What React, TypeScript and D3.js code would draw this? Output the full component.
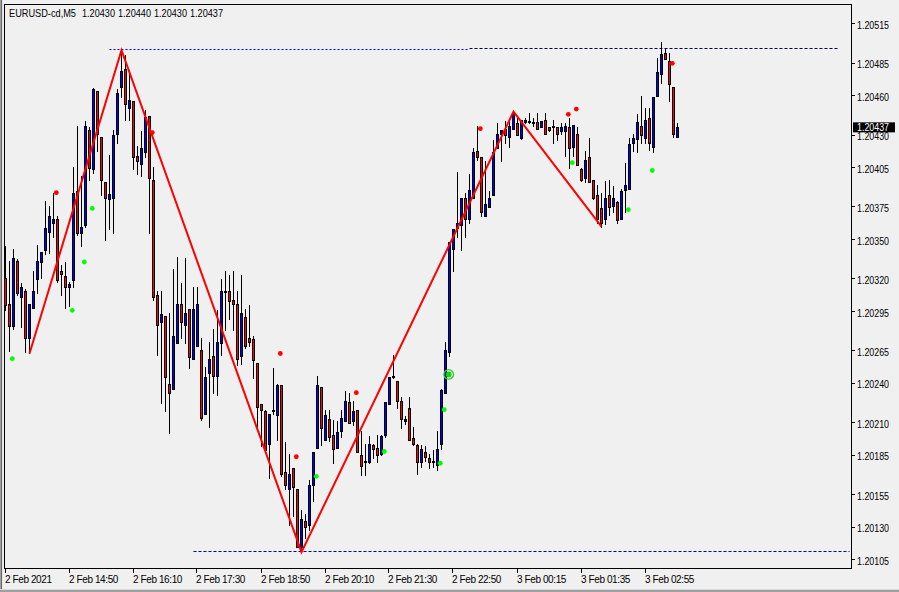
import React, { useEffect } from 'react';
import * as d3 from 'd3';

const symbolTitle = 'EURUSD-cd,M5';
const lastBarValues = ['1.20430', '1.20440', '1.20430', '1.20437'];
const lastPrice = 1.20437;

const opens = [
  1.20322, 1.20302, 1.20285, 1.20335, 1.20307, 1.20312, 1.20276, 1.20299, 1.20321, 1.20334,
  1.20343, 1.20357, 1.20364, 1.20367, 1.20327, 1.20323, 1.20315, 1.20320, 1.20388, 1.20356,
  1.20362, 1.20435, 1.20405, 1.20465, 1.20430, 1.20395, 1.20382, 1.20383, 1.20432, 1.20468,
  1.20482, 1.20452, 1.20457, 1.20415, 1.20409, 1.20418, 1.20446, 1.20397, 1.20309, 1.20288,
  1.20293, 1.20241, 1.20237, 1.20272, 1.20302, 1.20286, 1.20298, 1.20260, 1.20270, 1.20267,
  1.20218, 1.20249, 1.20262, 1.20247, 1.20272, 1.20312, 1.20312, 1.20305, 1.20302, 1.20262,
  1.20292, 1.20276, 1.20275, 1.20257, 1.20225, 1.20220, 1.20195, 1.20221, 1.20217, 1.20240,
  1.20173, 1.20160, 1.20176, 1.20160, 1.20116, 1.20136, 1.20133, 1.20163, 1.20192, 1.20238,
  1.20198, 1.20214, 1.20202, 1.20192, 1.20205, 1.20212, 1.20227, 1.20212, 1.20221, 1.20186,
  1.20182, 1.20181, 1.20194, 1.20192, 1.20187, 1.20202, 1.20225, 1.20247, 1.20243, 1.20228,
  1.20212, 1.20222, 1.20199, 1.20194, 1.20181, 1.20189, 1.20184, 1.20181, 1.20179, 1.20195,
  1.20234, 1.20265, 1.20344, 1.20360, 1.20362, 1.20383, 1.20367, 1.20383, 1.20419, 1.20414,
  1.20369, 1.20376, 1.20385, 1.20421, 1.20432, 1.20436, 1.20430, 1.20436, 1.20440, 1.20429,
  1.20441, 1.20442, 1.20440, 1.20441, 1.20437, 1.20443, 1.20437, 1.20438, 1.20437, 1.20434,
  1.20434, 1.20437, 1.20422, 1.20432, 1.20405, 1.20398, 1.20414, 1.20397, 1.20385, 1.20375,
  1.20367, 1.20385, 1.20377, 1.20380, 1.20367, 1.20389, 1.20390, 1.20425, 1.20428, 1.20438,
  1.20429, 1.20444, 1.20422, 1.20461, 1.20478, 1.20494, 1.20488, 1.20468, 1.20430,
];

const highs = [
  1.20346, 1.20335, 1.20344, 1.20336, 1.20318, 1.20313, 1.20302, 1.20327, 1.20347, 1.20342,
  1.20381, 1.20377, 1.20387, 1.20369, 1.20332, 1.20334, 1.20319, 1.20407, 1.20438, 1.20400,
  1.20442, 1.20437, 1.20467, 1.20465, 1.20430, 1.20395, 1.20416, 1.20435, 1.20466, 1.20496,
  1.20492, 1.20481, 1.20457, 1.20423, 1.20434, 1.20450, 1.20446, 1.20407, 1.20312, 1.20312,
  1.20293, 1.20295, 1.20329, 1.20338, 1.20318, 1.20337, 1.20298, 1.20315, 1.20315, 1.20276,
  1.20254, 1.20273, 1.20283, 1.20297, 1.20321, 1.20327, 1.20324, 1.20327, 1.20312, 1.20324,
  1.20298, 1.20301, 1.20277, 1.20257, 1.20225, 1.20221, 1.20218, 1.20253, 1.20241, 1.20240,
  1.20196, 1.20187, 1.20176, 1.20160, 1.20144, 1.20141, 1.20167, 1.20189, 1.20247, 1.20238,
  1.20221, 1.20221, 1.20213, 1.20212, 1.20221, 1.20235, 1.20234, 1.20228, 1.20221, 1.20205,
  1.20195, 1.20201, 1.20195, 1.20202, 1.20202, 1.20227, 1.20246, 1.20263, 1.20243, 1.20231,
  1.20216, 1.20231, 1.20208, 1.20195, 1.20194, 1.20193, 1.20187, 1.20190, 1.20205, 1.20237,
  1.20273, 1.20349, 1.20359, 1.20403, 1.20383, 1.20387, 1.20401, 1.20421, 1.20438, 1.20414,
  1.20411, 1.20388, 1.20427, 1.20440, 1.20435, 1.20442, 1.20441, 1.20449, 1.20446, 1.20443,
  1.20444, 1.20448, 1.20444, 1.20448, 1.20442, 1.20448, 1.20437, 1.20443, 1.20437, 1.20440,
  1.20440, 1.20444, 1.20439, 1.20437, 1.20406, 1.20419, 1.20429, 1.20397, 1.20393, 1.20387,
  1.20396, 1.20397, 1.20392, 1.20381, 1.20390, 1.20410, 1.20429, 1.20432, 1.20447, 1.20461,
  1.20452, 1.20452, 1.20460, 1.20490, 1.20502, 1.20497, 1.20494, 1.20468, 1.20440,
];

const lows = [
  1.20297, 1.20266, 1.20283, 1.20309, 1.20284, 1.20265, 1.20264, 1.20299, 1.20310, 1.20322,
  1.20340, 1.20341, 1.20353, 1.20319, 1.20309, 1.20299, 1.20300, 1.20315, 1.20355, 1.20346,
  1.20361, 1.20397, 1.20402, 1.20419, 1.20385, 1.20351, 1.20359, 1.20356, 1.20425, 1.20460,
  1.20443, 1.20443, 1.20405, 1.20401, 1.20400, 1.20414, 1.20356, 1.20305, 1.20263, 1.20226,
  1.20220, 1.20203, 1.20237, 1.20272, 1.20276, 1.20272, 1.20253, 1.20260, 1.20270, 1.20213,
  1.20218, 1.20208, 1.20234, 1.20232, 1.20263, 1.20282, 1.20290, 1.20282, 1.20255, 1.20256,
  1.20268, 1.20270, 1.20245, 1.20207, 1.20193, 1.20189, 1.20169, 1.20218, 1.20198, 1.20170,
  1.20160, 1.20133, 1.20140, 1.20116, 1.20112, 1.20123, 1.20129, 1.20151, 1.20192, 1.20194,
  1.20198, 1.20197, 1.20180, 1.20192, 1.20200, 1.20212, 1.20211, 1.20209, 1.20189, 1.20171,
  1.20171, 1.20180, 1.20184, 1.20181, 1.20186, 1.20200, 1.20225, 1.20245, 1.20222, 1.20207,
  1.20210, 1.20198, 1.20194, 1.20172, 1.20177, 1.20182, 1.20176, 1.20177, 1.20175, 1.20191,
  1.20234, 1.20262, 1.20327, 1.20353, 1.20343, 1.20353, 1.20364, 1.20383, 1.20412, 1.20369,
  1.20369, 1.20376, 1.20385, 1.20421, 1.20411, 1.20425, 1.20422, 1.20436, 1.20431, 1.20428,
  1.20440, 1.20440, 1.20438, 1.20436, 1.20437, 1.20432, 1.20434, 1.20425, 1.20427, 1.20432,
  1.20415, 1.20406, 1.20415, 1.20408, 1.20396, 1.20395, 1.20395, 1.20382, 1.20364, 1.20361,
  1.20363, 1.20370, 1.20372, 1.20364, 1.20367, 1.20372, 1.20390, 1.20419, 1.20418, 1.20425,
  1.20425, 1.20420, 1.20418, 1.20461, 1.20471, 1.20489, 1.20457, 1.20430, 1.20430,
];

const closes = [
  1.20301, 1.20285, 1.20337, 1.20310, 1.20315, 1.20276, 1.20302, 1.20312, 1.20335, 1.20342,
  1.20360, 1.20369, 1.20367, 1.20320, 1.20325, 1.20315, 1.20317, 1.20387, 1.20356, 1.20361,
  1.20438, 1.20406, 1.20466, 1.20432, 1.20397, 1.20383, 1.20386, 1.20431, 1.20463, 1.20480,
  1.20455, 1.20458, 1.20414, 1.20411, 1.20421, 1.20445, 1.20398, 1.20307, 1.20286, 1.20294,
  1.20246, 1.20234, 1.20277, 1.20302, 1.20288, 1.20295, 1.20261, 1.20298, 1.20302, 1.20215,
  1.20246, 1.20260, 1.20247, 1.20273, 1.20312, 1.20311, 1.20304, 1.20302, 1.20260, 1.20295,
  1.20270, 1.20273, 1.20259, 1.20223, 1.20221, 1.20190, 1.20218, 1.20220, 1.20240, 1.20172,
  1.20163, 1.20172, 1.20162, 1.20116, 1.20137, 1.20131, 1.20163, 1.20189, 1.20240, 1.20207,
  1.20217, 1.20200, 1.20191, 1.20204, 1.20215, 1.20228, 1.20211, 1.20220, 1.20189, 1.20178,
  1.20181, 1.20195, 1.20191, 1.20186, 1.20201, 1.20227, 1.20246, 1.20246, 1.20228, 1.20214,
  1.20214, 1.20198, 1.20195, 1.20181, 1.20191, 1.20185, 1.20181, 1.20182, 1.20191, 1.20236,
  1.20267, 1.20349, 1.20359, 1.20364, 1.20383, 1.20367, 1.20389, 1.20418, 1.20414, 1.20372,
  1.20378, 1.20383, 1.20418, 1.20432, 1.20435, 1.20431, 1.20438, 1.20448, 1.20431, 1.20443,
  1.20443, 1.20441, 1.20441, 1.20436, 1.20442, 1.20432, 1.20435, 1.20437, 1.20432, 1.20437,
  1.20438, 1.20421, 1.20439, 1.20408, 1.20397, 1.20412, 1.20395, 1.20383, 1.20367, 1.20364,
  1.20383, 1.20376, 1.20383, 1.20366, 1.20388, 1.20393, 1.20424, 1.20429, 1.20441, 1.20431,
  1.20443, 1.20425, 1.20460, 1.20479, 1.20493, 1.20489, 1.20470, 1.20432, 1.20437,
];

const priceTicks = [
  1.20515, 1.20485, 1.2046, 1.2043, 1.20405, 1.20375, 1.2035, 1.2032,
  1.20295, 1.20265, 1.2024, 1.2021, 1.20185, 1.20155, 1.2013, 1.20105,
];

const timeLabels = [
  '2 Feb 2021', '2 Feb 14:50', '2 Feb 16:10', '2 Feb 17:30', '2 Feb 18:50', '2 Feb 20:10',
  '2 Feb 21:30', '2 Feb 22:50', '3 Feb 00:15', '3 Feb 01:35', '3 Feb 02:55',
];
const timeLabelBars = [0, 16, 32, 48, 64, 80, 96, 112, 128, 144, 160];

const zigzagBars = [6, 29, 74, 127, 149];
const zigzagPrices = [1.20264, 1.20496, 1.20112, 1.20449, 1.20361];

const buyDotBars = [1, 16, 19, 21, 77, 94, 108, 109, 141, 155, 161];
const buyDotPrices = [1.2026, 1.20297, 1.20334, 1.20375, 1.2017, 1.20189, 1.2018, 1.20221, 1.2041, 1.20374, 1.20404];
const sellDotBars = [12, 36, 68, 72, 87, 118, 140, 142, 166];
const sellDotPrices = [1.20387, 1.20433, 1.20264, 1.20185, 1.20234, 1.20436, 1.20447, 1.20451, 1.20486];

const signalBar = 110;
const signalPrice = 1.20248;

const levelPrices = [1.20497, 1.20498, 1.20113];
const levelFromBars = [26, 116, 47];
const levelToBars = [116, 208, 211];
const levelColors = ['#0000ff', '#000060', '#0000b0'];
const levelDashes = ['2,2', '3,2', '3,2'];

const W = 899;
const H = 592;
const frameLeft = 4;
const frameTop = 4;
const axisX = 851;
const axisY = 568;
const FONT = '"Liberation Sans", Arial, sans-serif';

export default function App() {
  useEffect(() => {
    document.body.style.margin = '0';
  }, []);

  const xScale = d3.scaleLinear().domain([0, 168]).range([5.5, 677.5]);
  const yScale = d3.scaleLinear().domain([1.20105, 1.20515]).range([561.3, 25.4]);

  const zigzagLine = d3
    .line<[number, number]>()
    .x((d) => xScale(d[0]))
    .y((d) => yScale(d[1]));
  const zigzagPath = zigzagLine(zigzagBars.map((b, i) => [b, zigzagPrices[i]] as [number, number])) || '';

  const dotShift = 0.7;

  return (
    <svg
      width={W}
      height={H}
      viewBox={`0 0 ${W} ${H}`}
      style={{ position: 'absolute', left: 0, top: 0, display: 'block', background: '#f0f0f0' }}
      fontFamily={FONT}
    >
      <rect x={0} y={0} width={W} height={H} fill="#f0f0f0" />
      {/* window border */}
      <rect x={0} y={0} width={1} height={H} fill="#a0a0a0" />
      <rect x={1} y={0} width={1} height={H} fill="#696969" />
      <rect x={2} y={0} width={1} height={H} fill="#e3e3e3" />
      <rect x={0} y={589} width={W} height={1} fill="#d8d8d8" />
      <rect x={0} y={590} width={W} height={2} fill="#a0a0a0" />

      {/* chart frame */}
      <line x1={frameLeft + 0.5} x2={frameLeft + 0.5} y1={frameTop} y2={axisY + 1} stroke="#000" />
      <line x1={frameLeft} x2={axisX + 1} y1={frameTop + 0.5} y2={frameTop + 0.5} stroke="#000" />
      <line x1={axisX + 0.5} x2={axisX + 0.5} y1={frameTop} y2={axisY + 1} stroke="#000" />
      <line x1={frameLeft} x2={axisX + 1} y1={axisY + 0.5} y2={axisY + 0.5} stroke="#000" />

      {/* level lines */}
      {levelPrices.map((p, i) => {
        const y = Math.round(yScale(p)) + 0.5;
        return (
          <line
            key={`lvl${i}`}
            x1={xScale(levelFromBars[i])}
            x2={xScale(levelToBars[i])}
            y1={y}
            y2={y}
            stroke={levelColors[i]}
            strokeDasharray={levelDashes[i]}
          />
        );
      })}

      {/* candles */}
      {opens.map((o, i) => {
        const c = closes[i];
        const cx = xScale(i);
        const yH = Math.round(yScale(highs[i]));
        const yL = Math.round(yScale(lows[i]));
        const yTop = Math.round(yScale(Math.max(o, c)));
        const yBot = Math.round(yScale(Math.min(o, c)));
        const bull = c > o;
        return (
          <g key={`c${i}`}>
            <line x1={cx} x2={cx} y1={yH} y2={yL + 1} stroke="#000" />
            {yBot - yTop >= 1 ? (
              <rect
                x={cx - 1}
                y={yTop + 0.5}
                width={2}
                height={yBot - yTop}
                fill={bull ? '#0000ff' : '#ff0000'}
                stroke="#000"
              />
            ) : (
              <line x1={cx - 1.5} x2={cx + 1.5} y1={yTop + 0.5} y2={yTop + 0.5} stroke="#000" />
            )}
          </g>
        );
      })}

      {/* zigzag */}
      <path d={zigzagPath} fill="none" stroke="#ff0000" strokeWidth={2} strokeLinejoin="miter" />

      {/* signal dots */}
      {buyDotBars.map((b, i) => (
        <circle key={`b${i}`} cx={xScale(b + dotShift)} cy={yScale(buyDotPrices[i])} r={2.4} fill="#00ff00" />
      ))}
      {sellDotBars.map((b, i) => (
        <circle key={`s${i}`} cx={xScale(b + dotShift)} cy={yScale(sellDotPrices[i])} r={2.4} fill="#ff0000" />
      ))}
      <circle cx={xScale(signalBar + 0.8)} cy={yScale(signalPrice)} r={4.8} fill="none" stroke="#33cc33" strokeWidth={1.3} />
      <circle cx={xScale(signalBar + 0.8)} cy={yScale(signalPrice)} r={2.8} fill="#00e000" />

      {/* header */}
      <text x={9} y={17} fontSize={10.5} textLength={67} lengthAdjust="spacingAndGlyphs" fill="#000">
        {symbolTitle}
      </text>
      {lastBarValues.map((v, i) => (
        <text
          key={`h${i}`}
          x={82 + 36 * i}
          y={17}
          fontSize={10.5}
          textLength={33}
          lengthAdjust="spacingAndGlyphs"
          fill="#000"
        >
          {v}
        </text>
      ))}

      {/* price axis */}
      {priceTicks.map((p) => {
        const y = yScale(p);
        return (
          <g key={`p${p}`}>
            <line x1={axisX + 1} x2={axisX + 4} y1={Math.round(y) - 1.5} y2={Math.round(y) - 1.5} stroke="#000" />
            <text x={857} y={y + 3.6} fontSize={10} textLength={32} lengthAdjust="spacingAndGlyphs" fill="#000">
              {p.toFixed(5)}
            </text>
          </g>
        );
      })}
      {/* current price tag */}
      <rect x={853} y={yScale(lastPrice) - 5} width={42} height={10} fill="#000" />
      <text
        x={857}
        y={yScale(lastPrice) + 3.6}
        fontSize={10}
        textLength={32}
        lengthAdjust="spacingAndGlyphs"
        fill="#fff"
      >
        {lastPrice.toFixed(5)}
      </text>

      {/* time axis */}
      {timeLabelBars.map((b, i) => {
        const x = Math.round(xScale(b)) - 0.5;
        return (
          <g key={`t${i}`}>
            <line x1={x} x2={x} y1={axisY + 1} y2={axisY + 5} stroke="#000" />
            <text x={x - 0.5} y={583} fontSize={10} letterSpacing={-0.4} fill="#000">
              {timeLabels[i]}
            </text>
          </g>
        );
      })}
    </svg>
  );
}
